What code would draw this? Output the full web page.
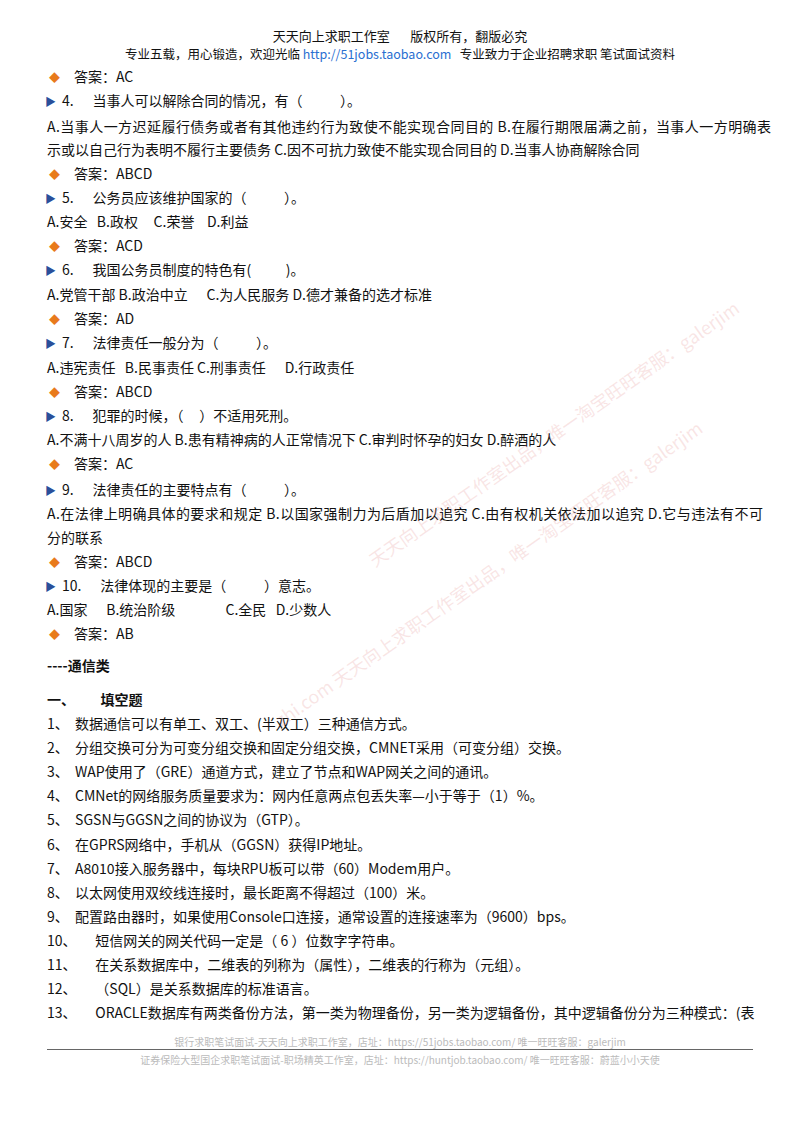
<!DOCTYPE html>
<html><head><meta charset="utf-8">
<script src="https://cdn.jsdelivr.net/npm/chart.js"></script>
<style>
body{margin:0;width:800px;height:1132px;background:#fff;position:relative;font-family:"Noto Sans CJK SC",sans-serif;color:#111;overflow:hidden}
.l{position:absolute;left:47px;font-size:14px;white-space:nowrap;line-height:18px}
.h{position:absolute;width:800px;text-align:center;font-size:12.5px;line-height:15px}
.dot{color:#e87a1c;font-size:11px;margin-left:2px;margin-right:14px}
.q{color:#2a4f9a;font-size:11px;margin-right:6px}
.wm{position:absolute;color:rgba(230,150,150,0.25);font-size:18px;transform:rotate(-35deg);white-space:nowrap}
.f{position:absolute;width:800px;text-align:center;font-size:10px;color:#bbb}
</style></head><body>
<div class="h" style="top:28px;font-size:13px">天天向上求职工作室&nbsp;&nbsp;&nbsp;&nbsp;&nbsp;&nbsp;&nbsp;版权所有，翻版必究</div>
<div class="h" style="top:46px">专业五载，用心锻造，欢迎光临 <span style="color:#2a6fd1">http://51jobs.taobao.com</span>&nbsp;&nbsp;&nbsp;专业致力于企业招聘求职 笔试面试资料</div>
<div id="c"></div>
<div class="wm" style="left:330px;top:420px">天天向上求职工作室出品，唯一淘宝旺旺客服：galerjim</div>
<div class="wm" style="left:230px;top:560px">zhi.com 天天向上求职工作室出品，唯一淘宝旺旺客服：galerjim</div>
<div class="f" style="top:1034px">银行求职笔试面试-天天向上求职工作室，店址：https://51jobs.taobao.com/ 唯一旺旺客服：galerjim</div>
<div style="position:absolute;left:47px;width:706px;top:1049px;border-top:1.5px solid #666"></div>
<div class="f" style="top:1052px">证券保险大型国企求职笔试面试-职场精英工作室，店址：https://huntjob.taobao.com/ 唯一旺旺客服：蔚蓝小小天使</div>
<script>
const lineTops=[67,91,117,140,164,188,212,236,260,285,309,333,358,382,406,430,454,480,504,528,552,576,600,624,656,690,714,738,762,786,810,835,859,883,907,931,955,979,1003];
const lineTexts=[
"•答案：AC",
"»4.      当事人可以解除合同的情况，有（            ）。",
"A.当事人一方迟延履行债务或者有其他违约行为致使不能实现合同目的 B.在履行期限届满之前，当事人一方明确表",
"示或以自己行为表明不履行主要债务 C.因不可抗力致使不能实现合同目的 D.当事人协商解除合同",
"•答案：ABCD",
"»5.      公务员应该维护国家的（            ）。",
"A.安全   B.政权     C.荣誉    D.利益",
"•答案：ACD",
"»6.      我国公务员制度的特色有(           )。",
"A.党管干部 B.政治中立      C.为人民服务 D.德才兼备的选才标准",
"•答案：AD",
"»7.      法律责任一般分为（            ）。",
"A.违宪责任   B.民事责任 C.刑事责任      D.行政责任",
"•答案：ABCD",
"»8.      犯罪的时候，（     ）不适用死刑。",
"A.不满十八周岁的人 B.患有精神病的人正常情况下 C.审判时怀孕的妇女 D.醉酒的人",
"•答案：AC",
"»9.      法律责任的主要特点有（            ）。",
"A.在法律上明确具体的要求和规定 B.以国家强制力为后盾加以追究 C.由有权机关依法加以追究 D.它与违法有不可",
"分的联系",
"•答案：ABCD",
"»10.      法律体现的主要是（            ）意志。",
"A.国家      B.统治阶级                C.全民   D.少数人",
"•答案：AB",
"#----通信类",
"#一、        填空题",
"1、  数据通信可以有单工、双工、(半双工）三种通信方式。",
"2、  分组交换可分为可变分组交换和固定分组交换，CMNET采用（可变分组）交换。",
"3、  WAP使用了（GRE）通道方式，建立了节点和WAP网关之间的通讯。",
"4、  CMNet的网络服务质量要求为：网内任意两点包丢失率—小于等于（1）%。",
"5、  SGSN与GGSN之间的协议为（GTP）。",
"6、  在GPRS网络中，手机从（GGSN）获得IP地址。",
"7、  A8010接入服务器中，每块RPU板可以带（60）Modem用户。",
"8、  以太网使用双绞线连接时，最长距离不得超过（100）米。",
"9、  配置路由器时，如果使用Console口连接，通常设置的连接速率为（9600）bps。",
"10、      短信网关的网关代码一定是（ 6 ）位数字字符串。",
"11、      在关系数据库中，二维表的列称为（属性），二维表的行称为（元组）。",
"12、      （SQL）是关系数据库的标准语言。",
"13、      ORACLE数据库有两类备份方法，第一类为物理备份，另一类为逻辑备份，其中逻辑备份分为三种模式：(表"
];
const c=document.getElementById('c');
lineTexts.forEach((t,i)=>{
  const d=document.createElement('div');d.className='l';d.style.top=lineTops[i]+'px';
  const esc=s=>s.replace(/ /g,'&nbsp;');
  if(t[0]==='•'){d.innerHTML='<span class="dot">◆</span>'+esc(t.slice(1));}
  else if(t[0]==='»'){d.innerHTML='<span class="q">▶</span>'+esc(t.slice(1));d.style.left='45px';}
  else if(t[0]==='#'){d.innerHTML=esc(t.slice(1));d.style.fontWeight='bold';}
  else d.innerHTML=esc(t);
  if(t.startsWith('A.')&&t.length>48){d.style.letterSpacing='0.45px';}
  c.appendChild(d);
});
</script>
</body></html>
